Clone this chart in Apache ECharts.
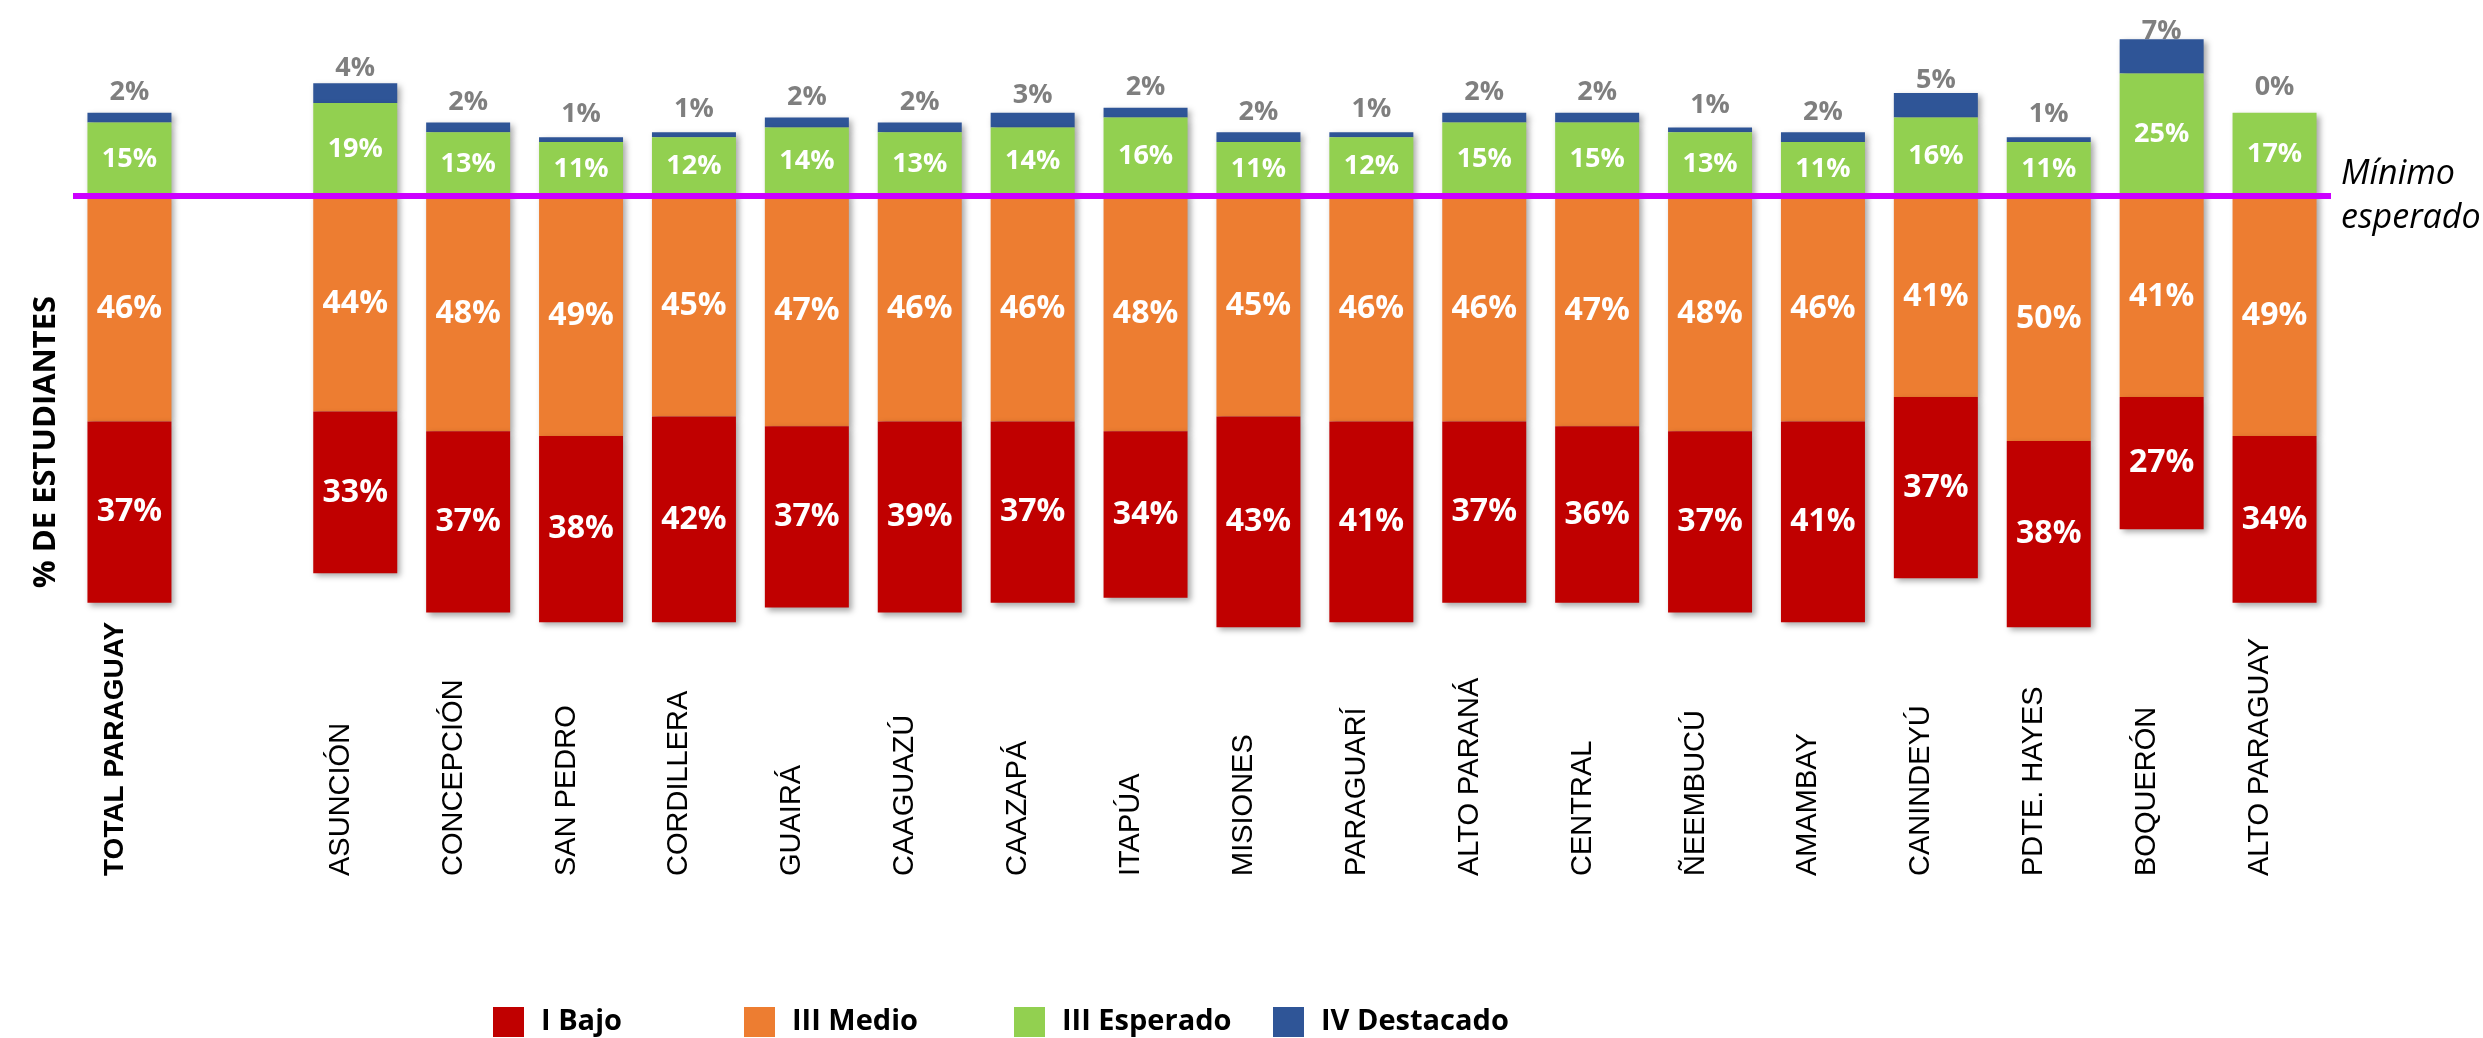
<!DOCTYPE html>
<html><head><meta charset="utf-8">
<script src="https://cdn.jsdelivr.net/npm/echarts@6/dist/echarts.min.js"></script>
<style>html,body{margin:0;padding:0;background:#fff}#c{width:2483px;height:1038px}</style>
</head><body><div id="c"></div><script>
const categories = ['TOTAL PARAGUAY', '', 'ASUNCIÓN', 'CONCEPCIÓN', 'SAN PEDRO', 'CORDILLERA', 'GUAIRÁ', 'CAAGUAZÚ', 'CAAZAPÁ', 'ITAPÚA', 'MISIONES', 'PARAGUARÍ', 'ALTO PARANÁ', 'CENTRAL', 'ÑEEMBUCÚ', 'AMAMBAY', 'CANINDEYÚ', 'PDTE. HAYES', 'BOQUERÓN', 'ALTO PARAGUAY'];
const bajo      = [37, '-', 33, 37, 38, 42, 37, 39, 37, 34, 43, 41, 37, 36, 37, 41, 37, 38, 27, 34];
const medio     = [46, '-', 44, 48, 49, 45, 47, 46, 46, 48, 45, 46, 46, 47, 48, 46, 41, 50, 41, 49];
const esperado  = [15, '-', 19, 13, 11, 12, 14, 13, 14, 16, 11, 12, 15, 15, 13, 11, 16, 11, 25, 17];
const destacado = [2, '-', 4, 2, 1, 1, 2, 2, 3, 2, 2, 1, 2, 2, 1, 2, 5, 1, 7, 0];
const legendNames = ['I Bajo', 'III Medio', 'III Esperado', 'IV Destacado'];

const neg = a => a.map(v => v === '-' ? '-' : -v);
const pct = p => Math.abs(p.value) + '%';
const F = "'Open Sans', 'Noto Sans', sans-serif";
const NF = "'Liberation Sans', Arial, sans-serif";
const shadow = { shadowColor: 'rgba(0,0,0,0.35)', shadowBlur: 6, shadowOffsetX: 3, shadowOffsetY: 3 };
const inLabel = size => ({ show: true, position: 'inside', formatter: pct, color: '#fff', fontFamily: F, fontWeight: 'bold', fontSize: size, textBorderWidth: 0 });

function lg(name, left) {
  return { data: [name], left: left, top: 1007, padding: 0, itemWidth: 31, itemHeight: 30, icon: 'rect', selectedMode: false,
    textStyle: { fontFamily: F, fontWeight: 'bold', fontSize: 29, color: '#000', padding: [0, 0, 0, 12] } };
}

const chart = echarts.init(document.getElementById('c'));
chart.setOption({
  animation: false,
  grid: { left: 73, right: 152, top: 0, bottom: 352 },
  xAxis: {
    type: 'category', data: categories,
    axisLine: { show: false, onZero: false }, axisTick: { show: false },
    axisLabel: {
      interval: 0, rotate: 90, align: 'left', verticalAlign: 'bottom', margin: 190,
      fontFamily: NF, fontSize: 29, color: '#000',
      formatter: (v, i) => i === 0 ? '{b|' + v + '}' : v,
      rich: { b: { fontWeight: 'bold', fontSize: 28, fontFamily: NF, color: '#000' } }
    }
  },
  yAxis: { type: 'value', min: -100, max: 40, show: false },
  legend: [lg(legendNames[0], 493), lg(legendNames[1], 744), lg(legendNames[2], 1014), lg(legendNames[3], 1273)],
  graphic: [{
    type: 'text', x: 46, y: 442, rotation: Math.PI / 2,
    style: { text: '% DE ESTUDIANTES', font: "bold 31px 'Open Sans'", fill: '#000', textAlign: 'center', textVerticalAlign: 'middle' }
  }],
  series: [
    { name: legendNames[1], type: 'bar', stack: 't', barWidth: 84, z: 4, data: neg(medio),
      itemStyle: Object.assign({ color: '#ED7D31' }, shadow), label: inLabel(32) },
    { name: legendNames[0], type: 'bar', stack: 't', barWidth: 84, z: 5, data: neg(bajo),
      itemStyle: Object.assign({ color: '#C00000' }, shadow), label: inLabel(32),
      markLine: {
        silent: true, symbol: ['none', 'none'],
        lineStyle: { color: '#CC00FF', width: 6, type: 'solid' },
        label: { show: true, position: 'end', formatter: 'Mínimo\nesperado', fontStyle: 'italic', fontFamily: F, fontSize: 34, color: '#000', lineHeight: 44, distance: 10 },
        data: [{ yAxis: 0 }]
      } },
    { name: legendNames[2], type: 'bar', stack: 't', barWidth: 84, z: 3, data: esperado,
      itemStyle: Object.assign({ color: '#92D050' }, shadow), label: inLabel(27) },
    { name: legendNames[3], type: 'bar', stack: 't', barWidth: 84, z: 2, data: destacado,
      itemStyle: Object.assign({ color: '#2F5597' }, shadow),
      label: { show: true, position: 'inside', offset: [0, -25], formatter: pct, color: '#7F7F7F', fontFamily: F, fontWeight: 'bold', fontSize: 27, textBorderWidth: 0 } }
  ]
});
</script></body></html>
